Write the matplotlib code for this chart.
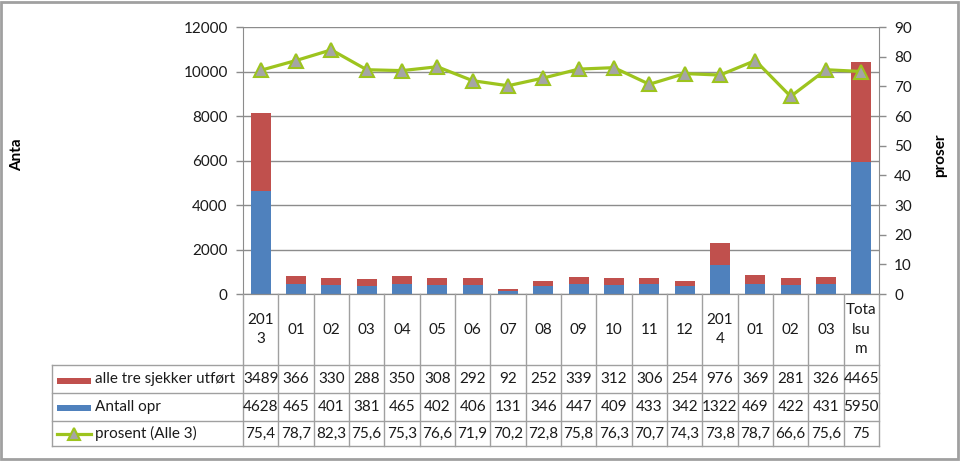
import matplotlib
matplotlib.use("Agg")
import matplotlib.pyplot as plt
from matplotlib.lines import Line2D
from matplotlib.patches import Rectangle
from matplotlib.transforms import blended_transform_factory
import numpy as np

categories = ["201\n3", "01", "02", "03", "04", "05", "06", "07", "08", "09", "10", "11", "12",
              "201\n4", "01", "02", "03", "Tota\nlsu\nm"]
alle_tre = [3489, 366, 330, 288, 350, 308, 292, 92, 252, 339, 312, 306, 254, 976, 369, 281, 326, 4465]
antall_opr = [4628, 465, 401, 381, 465, 402, 406, 131, 346, 447, 409, 433, 342, 1322, 469, 422, 431, 5950]
prosent = [75.4, 78.7, 82.3, 75.6, 75.3, 76.6, 71.9, 70.2, 72.8, 75.8, 76.3, 70.7, 74.3, 73.8, 78.7, 66.6, 75.6, 75]
series_names = ["alle tre sjekker utført", "Antall opr", "prosent (Alle 3)"]

plt.rcParams['font.family'] = ['Lato', 'DejaVu Sans']

W, H = 960, 461
fig = plt.figure(figsize=(W / 100, H / 100), dpi=100)

def fx(x):
    return x / W

def fy(y):
    return 1 - y / H

L, R, T, B = 243, 879, 27, 294
ax = fig.add_axes([fx(L), fy(B), fx(R) - fx(L), fy(T) - fy(B)])
ax2 = ax.twinx()

blue = '#4F81BD'
red = '#C0504D'
green = '#9DC41E'
grid_c = '#8C8C8C'
axis_c = '#8C8C8C'
txt_c = '#1A1A1A'
fs = 11

x = np.arange(len(categories))
bw = 0.57
ax.bar(x, antall_opr, bw, color=blue, zorder=2)
ax.bar(x, alle_tre, bw, bottom=antall_opr, color=red, zorder=2)
ax.set_xlim(-0.5, len(categories) - 0.5)
ax.set_ylim(0, 12000)
ax.set_yticks(range(0, 12001, 2000))
ax.yaxis.grid(True, color=grid_c, linewidth=1.0, zorder=0)
ax.set_axisbelow(True)
ax.set_xticks([])

ax2.plot(x, prosent, color=green, linewidth=2.3, marker='^', markersize=10,
         markerfacecolor='#A5A5A5', markeredgecolor=green, markeredgewidth=1.5, zorder=3)
ax2.set_ylim(0, 90)
ax2.set_yticks(range(0, 91, 10))

for a in (ax, ax2):
    a.spines['top'].set_visible(False)
    a.spines['left'].set_color(axis_c)
    a.spines['right'].set_color(axis_c)
    a.spines['bottom'].set_color(axis_c)
    a.tick_params(axis='y', colors=axis_c, labelcolor=txt_c, labelsize=fs, length=5, width=1)
ax.spines['right'].set_visible(False)
ax2.spines['left'].set_visible(False)
ax.tick_params(axis='y', pad=6)
ax2.tick_params(axis='y', pad=6)

fig.text(fx(17), fy(155), "Anta", rotation=90, ha='center', va='center', fontsize=fs, fontweight='bold')
fig.text(fx(940), fy(155), "proser", rotation=90, ha='center', va='center', fontsize=fs, fontweight='bold')

# data table
bt = blended_transform_factory(ax.transData, fig.transFigure)
tc = '#A0A0A0'
lw = 1.0
row_y = [B, 365, 393, 421, 446]
n = len(categories)
for i in range(n + 1):
    xv = i - 0.5
    fig.add_artist(Line2D([xv, xv], [fy(B), fy(446)], transform=bt, color=tc, linewidth=lw))
for yy in row_y[1:]:
    fig.add_artist(Line2D([fx(52), fx(R)], [fy(yy), fy(yy)], transform=fig.transFigure, color=tc, linewidth=lw))
fig.add_artist(Line2D([fx(52), fx(52)], [fy(365), fy(446)], transform=fig.transFigure, color=tc, linewidth=lw))

for i, c in enumerate(categories):
    fig.text(i, fy((B + 365) / 2), c, transform=bt, ha='center', va='center', fontsize=fs,
             linespacing=1.5, color=txt_c)
rows = [alle_tre, antall_opr, [str(p).replace('.', ',') for p in prosent]]
for r, vals in enumerate(rows):
    yc = (row_y[r + 1] + row_y[r + 2]) / 2
    for i, v in enumerate(vals):
        fig.text(i, fy(yc), str(v), transform=bt, ha='center', va='center', fontsize=fs, color=txt_c)
    fig.text(fx(95), fy(yc), series_names[r], transform=fig.transFigure, ha='left', va='center',
             fontsize=fs, color=txt_c)

# legend keys
fig.add_artist(Rectangle((fx(57), fy(384)), fx(91) - fx(57), fy(378) - fy(384), transform=fig.transFigure,
                         facecolor=red, edgecolor='none'))
fig.add_artist(Rectangle((fx(57), fy(411)), fx(91) - fx(57), fy(405) - fy(411), transform=fig.transFigure,
                         facecolor=blue, edgecolor='none'))
fig.add_artist(Line2D([fx(57), fx(91)], [fy(434), fy(434)], transform=fig.transFigure, color=green,
                      linewidth=2.3))
fig.add_artist(Line2D([fx(74)], [fy(434)], transform=fig.transFigure, color=green, linestyle='none',
                      marker='^', markersize=9, markerfacecolor='#A5A5A5', markeredgecolor=green,
                      markeredgewidth=1.5))

# outer frame
fig.add_artist(Rectangle((fx(1), fy(459)), fx(958) - fx(1), fy(2) - fy(459), transform=fig.transFigure,
                         facecolor='none', edgecolor='#A0A0A0', linewidth=2))

fig.savefig("out.png", dpi=100)
